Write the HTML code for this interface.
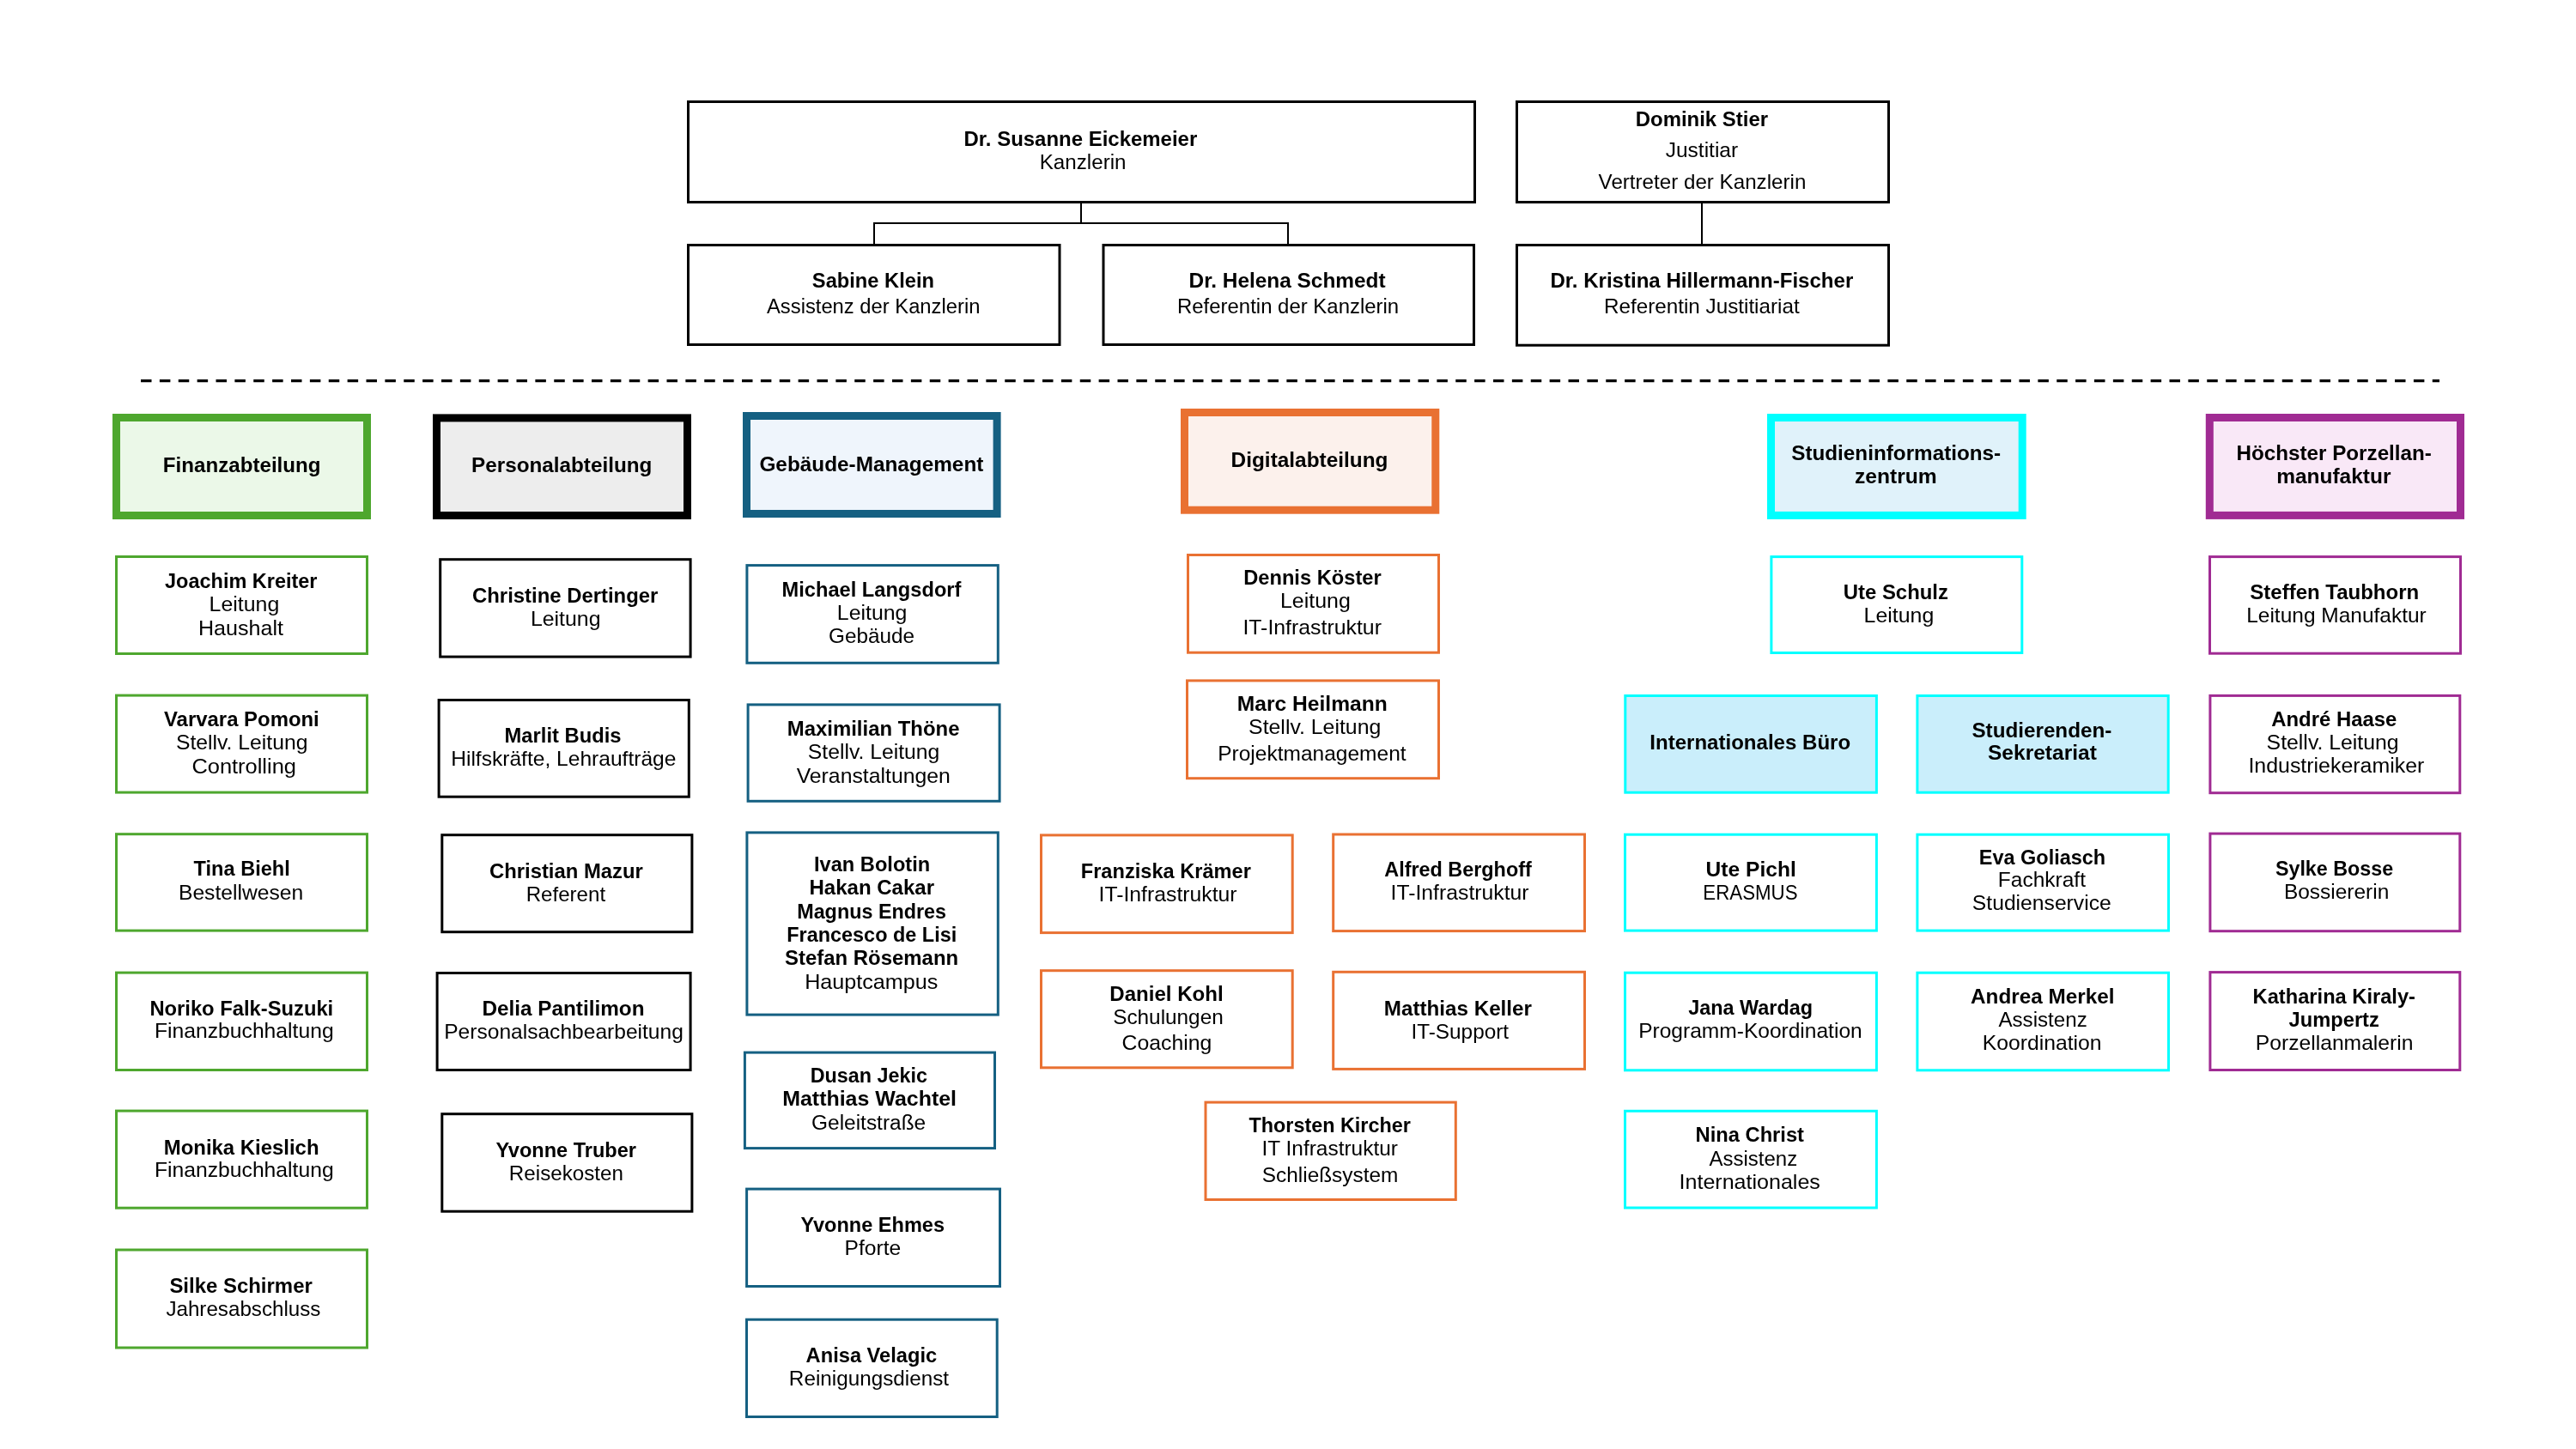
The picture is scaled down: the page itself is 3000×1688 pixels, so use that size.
<!DOCTYPE html><html><head><meta charset="utf-8"><title>Organigramm</title><style>html,body{margin:0;padding:0;background:#fff;width:3000px;height:1688px;overflow:hidden}svg{display:block;will-change:transform}text{font-family:"Liberation Sans",sans-serif;fill:#000}</style></head><body>
<svg width="3000" height="1688" viewBox="0 0 3000 1688">
<rect x="0" y="0" width="3000" height="1688" fill="#fff"/>
<line x1="1259" y1="237" x2="1259" y2="260" stroke="#000" stroke-width="2" />
<line x1="1017" y1="260" x2="1501" y2="260" stroke="#000" stroke-width="2" />
<line x1="1018" y1="259" x2="1018" y2="284" stroke="#000" stroke-width="2" />
<line x1="1500" y1="259" x2="1500" y2="284" stroke="#000" stroke-width="2" />
<line x1="1982" y1="237" x2="1982" y2="284" stroke="#000" stroke-width="2" />
<line x1="164" y1="443.6" x2="2841" y2="443.6" stroke="#000" stroke-width="3.125" stroke-dasharray="12.5 9.375"/>
<rect x="801.50" y="118.50" width="916.00" height="117.00" fill="#fff" stroke="#000000" stroke-width="3"/>
<text transform="translate(1122.55 170.00) scale(0.9990 1)" font-size="24" font-weight="700">Dr. Susanne Eickemeier</text>
<text transform="translate(1210.74 197.00) scale(1.0079 1)" font-size="24" font-weight="400">Kanzlerin</text>
<rect x="1766.50" y="118.50" width="433.00" height="117.00" fill="#fff" stroke="#000000" stroke-width="3"/>
<text transform="translate(1904.75 147.30) scale(0.9975 1)" font-size="24" font-weight="700">Dominik Stier</text>
<text transform="translate(1939.74 182.80) scale(1.0212 1)" font-size="24" font-weight="400">Justitiar</text>
<text transform="translate(1861.60 220.00) scale(1.0068 1)" font-size="24" font-weight="400">Vertreter der Kanzlerin</text>
<rect x="801.50" y="285.50" width="432.50" height="116.00" fill="#fff" stroke="#000000" stroke-width="3"/>
<text transform="translate(945.85 335.00) scale(0.9873 1)" font-size="24" font-weight="700">Sabine Klein</text>
<text transform="translate(893.00 365.00) scale(0.9913 1)" font-size="24" font-weight="400">Assistenz der Kanzlerin</text>
<rect x="1285.00" y="285.50" width="431.50" height="116.00" fill="#fff" stroke="#000000" stroke-width="3"/>
<text transform="translate(1384.51 335.20) scale(1.0172 1)" font-size="24" font-weight="700">Dr. Helena Schmedt</text>
<text transform="translate(1370.98 364.80) scale(0.9978 1)" font-size="24" font-weight="400">Referentin der Kanzlerin</text>
<rect x="1766.50" y="285.50" width="433.00" height="116.70" fill="#fff" stroke="#000000" stroke-width="3"/>
<text transform="translate(1805.39 334.80) scale(1.0031 1)" font-size="24" font-weight="700">Dr. Kristina Hillermann-Fischer</text>
<text transform="translate(1867.99 364.50) scale(1.0107 1)" font-size="24" font-weight="400">Referentin Justitiariat</text>
<rect x="135.50" y="486.50" width="292.00" height="114.00" fill="#EBF8E8" stroke="#4EA72E" stroke-width="9"/>
<text transform="translate(189.82 550.20) scale(1.0062 1)" font-size="24" font-weight="700">Finanzabteilung</text>
<rect x="135.50" y="648.50" width="292.00" height="113.00" fill="#fff" stroke="#4EA72E" stroke-width="3"/>
<text transform="translate(192.03 684.80) scale(0.9789 1)" font-size="24" font-weight="700">Joachim Kreiter</text>
<text transform="translate(243.60 711.90) scale(1.0378 1)" font-size="24" font-weight="400">Leitung</text>
<text transform="translate(230.96 739.90) scale(1.0459 1)" font-size="24" font-weight="400">Haushalt</text>
<rect x="135.50" y="810.10" width="292.00" height="113.00" fill="#fff" stroke="#4EA72E" stroke-width="3"/>
<text transform="translate(190.99 846.00) scale(0.9968 1)" font-size="24" font-weight="700">Varvara Pomoni</text>
<text transform="translate(204.98 872.60) scale(1.0302 1)" font-size="24" font-weight="400">Stellv. Leitung</text>
<text transform="translate(223.38 900.70) scale(1.0606 1)" font-size="24" font-weight="400">Controlling</text>
<rect x="135.50" y="971.70" width="292.00" height="112.40" fill="#fff" stroke="#4EA72E" stroke-width="3"/>
<text transform="translate(225.60 1020.40) scale(0.9829 1)" font-size="24" font-weight="700">Tina Biehl</text>
<text transform="translate(207.98 1047.60) scale(1.0272 1)" font-size="24" font-weight="400">Bestellwesen</text>
<rect x="135.50" y="1133.10" width="292.00" height="113.40" fill="#fff" stroke="#4EA72E" stroke-width="3"/>
<text transform="translate(174.38 1182.80) scale(0.9900 1)" font-size="24" font-weight="700">Noriko Falk-Suzuki</text>
<text transform="translate(179.98 1209.40) scale(1.0290 1)" font-size="24" font-weight="400">Finanzbuchhaltung</text>
<rect x="135.50" y="1294.10" width="292.00" height="113.10" fill="#fff" stroke="#4EA72E" stroke-width="3"/>
<text transform="translate(190.75 1344.70) scale(0.9972 1)" font-size="24" font-weight="700">Monika Kieslich</text>
<text transform="translate(179.98 1371.20) scale(1.0290 1)" font-size="24" font-weight="400">Finanzbuchhaltung</text>
<rect x="135.50" y="1456.00" width="292.00" height="114.00" fill="#fff" stroke="#4EA72E" stroke-width="3"/>
<text transform="translate(197.39 1505.70) scale(0.9981 1)" font-size="24" font-weight="700">Silke Schirmer</text>
<text transform="translate(193.40 1532.60) scale(1.0079 1)" font-size="24" font-weight="400">Jahresabschluss</text>
<rect x="508.50" y="486.90" width="292.00" height="113.60" fill="#EDEDED" stroke="#000000" stroke-width="9"/>
<text transform="translate(549.05 550.10) scale(1.0116 1)" font-size="24" font-weight="700">Personalabteilung</text>
<rect x="512.70" y="651.70" width="291.40" height="113.40" fill="#fff" stroke="#000000" stroke-width="3"/>
<text transform="translate(550.00 701.80) scale(0.9955 1)" font-size="24" font-weight="700">Christine Dertinger</text>
<text transform="translate(617.94 729.00) scale(1.0360 1)" font-size="24" font-weight="400">Leitung</text>
<rect x="511.10" y="815.50" width="291.20" height="112.70" fill="#fff" stroke="#000000" stroke-width="3"/>
<text transform="translate(587.56 864.80) scale(0.9902 1)" font-size="24" font-weight="700">Marlit Budis</text>
<text transform="translate(525.19 891.80) scale(1.0241 1)" font-size="24" font-weight="400">Hilfskräfte, Lehraufträge</text>
<rect x="514.80" y="972.70" width="291.10" height="113.00" fill="#fff" stroke="#000000" stroke-width="3"/>
<text transform="translate(570.00 1022.50) scale(0.9938 1)" font-size="24" font-weight="700">Christian Mazur</text>
<text transform="translate(612.67 1049.50) scale(1.0047 1)" font-size="24" font-weight="400">Referent</text>
<rect x="509.10" y="1133.50" width="295.00" height="113.00" fill="#fff" stroke="#000000" stroke-width="3"/>
<text transform="translate(561.38 1182.80) scale(1.0138 1)" font-size="24" font-weight="700">Delia Pantilimon</text>
<text transform="translate(517.19 1209.60) scale(1.0244 1)" font-size="24" font-weight="400">Personalsachbearbeitung</text>
<rect x="514.80" y="1297.70" width="291.10" height="113.50" fill="#fff" stroke="#000000" stroke-width="3"/>
<text transform="translate(577.39 1347.90) scale(0.9824 1)" font-size="24" font-weight="700">Yvonne Truber</text>
<text transform="translate(592.86 1374.90) scale(1.0082 1)" font-size="24" font-weight="400">Reisekosten</text>
<rect x="869.50" y="484.50" width="291.60" height="114.00" fill="#EFF5FC" stroke="#156082" stroke-width="9"/>
<text transform="translate(884.44 549.00) scale(1.0144 1)" font-size="24" font-weight="700">Gebäude-Management</text>
<rect x="869.90" y="658.60" width="292.40" height="113.70" fill="#fff" stroke="#156082" stroke-width="3"/>
<text transform="translate(910.57 694.70) scale(0.9855 1)" font-size="24" font-weight="700">Michael Langsdorf</text>
<text transform="translate(974.81 721.80) scale(1.0374 1)" font-size="24" font-weight="400">Leitung</text>
<text transform="translate(965.04 749.40) scale(1.0140 1)" font-size="24" font-weight="400">Gebäude</text>
<rect x="871.10" y="820.90" width="293.00" height="112.40" fill="#fff" stroke="#156082" stroke-width="3"/>
<text transform="translate(916.78 856.80) scale(0.9971 1)" font-size="24" font-weight="700">Maximilian Thöne</text>
<text transform="translate(940.85 883.80) scale(1.0313 1)" font-size="24" font-weight="400">Stellv. Leitung</text>
<text transform="translate(927.65 911.50) scale(1.0338 1)" font-size="24" font-weight="400">Veranstaltungen</text>
<rect x="869.90" y="969.90" width="292.40" height="212.20" fill="#fff" stroke="#156082" stroke-width="3"/>
<text transform="translate(947.96 1014.80) scale(0.9855 1)" font-size="24" font-weight="700">Ivan Bolotin</text>
<text transform="translate(942.38 1042.00) scale(1.0030 1)" font-size="24" font-weight="700">Hakan Cakar</text>
<text transform="translate(928.18 1070.00) scale(0.9737 1)" font-size="24" font-weight="700">Magnus Endres</text>
<text transform="translate(916.18 1097.00) scale(0.9776 1)" font-size="24" font-weight="700">Francesco de Lisi</text>
<text transform="translate(914.10 1124.00) scale(0.9971 1)" font-size="24" font-weight="700">Stefan Rösemann</text>
<text transform="translate(937.18 1151.70) scale(1.0481 1)" font-size="24" font-weight="400">Hauptcampus</text>
<rect x="867.40" y="1226.10" width="291.10" height="111.50" fill="#fff" stroke="#156082" stroke-width="3"/>
<text transform="translate(943.77 1261.30) scale(0.9731 1)" font-size="24" font-weight="700">Dusan Jekic</text>
<text transform="translate(911.18 1288.20) scale(1.0399 1)" font-size="24" font-weight="700">Matthias Wachtel</text>
<text transform="translate(945.04 1316.20) scale(1.0189 1)" font-size="24" font-weight="400">Geleitstraße</text>
<rect x="869.60" y="1385.10" width="294.90" height="113.40" fill="#fff" stroke="#156082" stroke-width="3"/>
<text transform="translate(932.59 1434.70) scale(0.9808 1)" font-size="24" font-weight="700">Yvonne Ehmes</text>
<text transform="translate(983.52 1461.50) scale(1.0268 1)" font-size="24" font-weight="400">Pforte</text>
<rect x="869.50" y="1537.20" width="291.70" height="113.30" fill="#fff" stroke="#156082" stroke-width="3"/>
<text transform="translate(938.60 1587.30) scale(0.9862 1)" font-size="24" font-weight="700">Anisa Velagic</text>
<text transform="translate(918.86 1613.60) scale(1.0122 1)" font-size="24" font-weight="400">Reinigungsdienst</text>
<rect x="1379.50" y="480.50" width="292.30" height="113.70" fill="#FCF1EC" stroke="#E97132" stroke-width="9"/>
<text transform="translate(1433.59 544.00) scale(1.0166 1)" font-size="24" font-weight="700">Digitalabteilung</text>
<rect x="1383.50" y="646.50" width="292.00" height="113.70" fill="#fff" stroke="#E97132" stroke-width="3"/>
<text transform="translate(1448.18 680.70) scale(0.9872 1)" font-size="24" font-weight="700">Dennis Köster</text>
<text transform="translate(1490.95 708.00) scale(1.0410 1)" font-size="24" font-weight="400">Leitung</text>
<text transform="translate(1447.40 739.00) scale(1.0359 1)" font-size="24" font-weight="400">IT-Infrastruktur</text>
<rect x="1382.50" y="792.90" width="293.00" height="113.80" fill="#fff" stroke="#E97132" stroke-width="3"/>
<text transform="translate(1440.77 827.80) scale(1.0255 1)" font-size="24" font-weight="700">Marc Heilmann</text>
<text transform="translate(1454.06 854.70) scale(1.0361 1)" font-size="24" font-weight="400">Stellv. Leitung</text>
<text transform="translate(1418.19 886.20) scale(1.0222 1)" font-size="24" font-weight="400">Projektmanagement</text>
<rect x="1212.50" y="972.90" width="292.70" height="113.70" fill="#fff" stroke="#E97132" stroke-width="3"/>
<text transform="translate(1258.77 1022.80) scale(0.9833 1)" font-size="24" font-weight="700">Franziska Krämer</text>
<text transform="translate(1279.58 1049.70) scale(1.0321 1)" font-size="24" font-weight="400">IT-Infrastruktur</text>
<rect x="1552.70" y="972.00" width="292.80" height="112.60" fill="#fff" stroke="#E97132" stroke-width="3"/>
<text transform="translate(1612.25 1021.20) scale(0.9753 1)" font-size="24" font-weight="700">Alfred Berghoff</text>
<text transform="translate(1619.58 1048.00) scale(1.0321 1)" font-size="24" font-weight="400">IT-Infrastruktur</text>
<rect x="1212.50" y="1130.70" width="292.70" height="113.10" fill="#fff" stroke="#E97132" stroke-width="3"/>
<text transform="translate(1292.37 1165.60) scale(1.0028 1)" font-size="24" font-weight="700">Daniel Kohl</text>
<text transform="translate(1296.18 1192.90) scale(1.0145 1)" font-size="24" font-weight="400">Schulungen</text>
<text transform="translate(1306.57 1222.80) scale(1.0338 1)" font-size="24" font-weight="400">Coaching</text>
<rect x="1552.70" y="1132.30" width="292.80" height="113.10" fill="#fff" stroke="#E97132" stroke-width="3"/>
<text transform="translate(1611.78 1183.00) scale(1.0089 1)" font-size="24" font-weight="700">Matthias Keller</text>
<text transform="translate(1643.39 1210.00) scale(1.0152 1)" font-size="24" font-weight="400">IT-Support</text>
<rect x="1404.00" y="1284.10" width="291.30" height="113.40" fill="#fff" stroke="#E97132" stroke-width="3"/>
<text transform="translate(1454.44 1318.80) scale(0.9750 1)" font-size="24" font-weight="700">Thorsten Kircher</text>
<text transform="translate(1469.43 1346.10) scale(1.0198 1)" font-size="24" font-weight="400">IT Infrastruktur</text>
<text transform="translate(1469.78 1376.80) scale(1.0169 1)" font-size="24" font-weight="400">Schließsystem</text>
<rect x="2062.50" y="486.50" width="292.70" height="113.90" fill="#E0F2FA" stroke="#00FFFF" stroke-width="9"/>
<text transform="translate(2086.22 535.60) scale(1.0114 1)" font-size="24" font-weight="700">Studieninformations-</text>
<text transform="translate(2159.92 563.00) scale(1.0273 1)" font-size="24" font-weight="700">zentrum</text>
<rect x="2062.90" y="648.60" width="291.90" height="111.90" fill="#fff" stroke="#00FFFF" stroke-width="3"/>
<text transform="translate(2146.72 697.70) scale(0.9967 1)" font-size="24" font-weight="700">Ute Schulz</text>
<text transform="translate(2170.60 724.50) scale(1.0378 1)" font-size="24" font-weight="400">Leitung</text>
<rect x="1892.80" y="810.50" width="292.60" height="112.70" fill="#CAEEFB" stroke="#00FFFF" stroke-width="3"/>
<text transform="translate(1921.30 872.50) scale(1.0029 1)" font-size="24" font-weight="700">Internationales Büro</text>
<rect x="2232.90" y="810.50" width="292.30" height="112.70" fill="#CAEEFB" stroke="#00FFFF" stroke-width="3"/>
<text transform="translate(2296.39 858.80) scale(1.0106 1)" font-size="24" font-weight="700">Studierenden-</text>
<text transform="translate(2314.99 885.20) scale(1.0225 1)" font-size="24" font-weight="700">Sekretariat</text>
<rect x="1892.50" y="972.20" width="292.90" height="111.90" fill="#fff" stroke="#00FFFF" stroke-width="3"/>
<text transform="translate(1986.57 1020.50) scale(1.0248 1)" font-size="24" font-weight="700">Ute Pichl</text>
<text transform="translate(1983.37 1047.50) scale(0.9284 1)" font-size="24" font-weight="400">ERASMUS</text>
<rect x="2232.90" y="972.20" width="292.60" height="111.90" fill="#fff" stroke="#00FFFF" stroke-width="3"/>
<text transform="translate(2304.78 1006.50) scale(0.9784 1)" font-size="24" font-weight="700">Eva Goliasch</text>
<text transform="translate(2326.77 1033.30) scale(1.0223 1)" font-size="24" font-weight="400">Fachkraft</text>
<text transform="translate(2296.87 1060.20) scale(1.0288 1)" font-size="24" font-weight="400">Studienservice</text>
<rect x="1892.50" y="1133.20" width="292.90" height="113.60" fill="#fff" stroke="#00FFFF" stroke-width="3"/>
<text transform="translate(1966.21 1182.10) scale(0.9764 1)" font-size="24" font-weight="700">Jana Wardag</text>
<text transform="translate(1908.18 1209.10) scale(1.0229 1)" font-size="24" font-weight="400">Programm-Koordination</text>
<rect x="2232.90" y="1133.20" width="292.60" height="113.60" fill="#fff" stroke="#00FFFF" stroke-width="3"/>
<text transform="translate(2295.03 1168.90) scale(1.0133 1)" font-size="24" font-weight="700">Andrea Merkel</text>
<text transform="translate(2327.40 1195.80) scale(1.0064 1)" font-size="24" font-weight="400">Assistenz</text>
<text transform="translate(2308.77 1223.00) scale(1.0301 1)" font-size="24" font-weight="400">Koordination</text>
<rect x="1892.50" y="1294.30" width="292.90" height="112.70" fill="#fff" stroke="#00FFFF" stroke-width="3"/>
<text transform="translate(1974.59 1330.10) scale(0.9876 1)" font-size="24" font-weight="700">Nina Christ</text>
<text transform="translate(1990.60 1357.80) scale(0.9991 1)" font-size="24" font-weight="400">Assistenz</text>
<text transform="translate(1955.56 1385.00) scale(1.0442 1)" font-size="24" font-weight="400">Internationales</text>
<rect x="2573.30" y="486.50" width="292.20" height="113.90" fill="#F9E8F7" stroke="#A02B93" stroke-width="9"/>
<text transform="translate(2604.45 535.60) scale(1.0093 1)" font-size="24" font-weight="700">Höchster Porzellan-</text>
<text transform="translate(2651.19 563.00) scale(1.0202 1)" font-size="24" font-weight="700">manufaktur</text>
<rect x="2573.50" y="648.60" width="292.00" height="112.60" fill="#fff" stroke="#A02B93" stroke-width="3"/>
<text transform="translate(2620.30 697.60) scale(1.0001 1)" font-size="24" font-weight="700">Steffen Taubhorn</text>
<text transform="translate(2616.20 725.00) scale(1.0202 1)" font-size="24" font-weight="400">Leitung Manufaktur</text>
<rect x="2573.90" y="810.40" width="290.90" height="113.30" fill="#fff" stroke="#A02B93" stroke-width="3"/>
<text transform="translate(2645.24 845.70) scale(0.9964 1)" font-size="24" font-weight="700">André Haase</text>
<text transform="translate(2639.60 872.70) scale(1.0349 1)" font-size="24" font-weight="400">Stellv. Leitung</text>
<text transform="translate(2618.40 899.80) scale(1.0385 1)" font-size="24" font-weight="400">Industriekeramiker</text>
<rect x="2573.90" y="971.10" width="290.90" height="113.60" fill="#fff" stroke="#A02B93" stroke-width="3"/>
<text transform="translate(2649.91 1020.40) scale(0.9709 1)" font-size="24" font-weight="700">Sylke Bosse</text>
<text transform="translate(2659.96 1047.30) scale(1.0197 1)" font-size="24" font-weight="400">Bossiererin</text>
<rect x="2573.90" y="1132.60" width="290.90" height="113.90" fill="#fff" stroke="#A02B93" stroke-width="3"/>
<text transform="translate(2623.59 1169.10) scale(0.9866 1)" font-size="24" font-weight="700">Katharina Kiraly-</text>
<text transform="translate(2665.61 1196.00) scale(0.9871 1)" font-size="24" font-weight="700">Jumpertz</text>
<text transform="translate(2626.78 1222.90) scale(1.0282 1)" font-size="24" font-weight="400">Porzellanmalerin</text>
</svg></body></html>
